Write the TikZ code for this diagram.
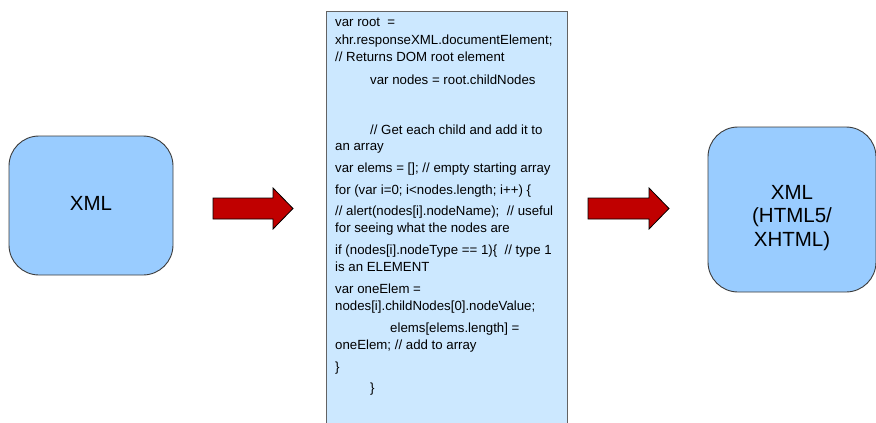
\documentclass[tikz,border=0pt]{standalone}
\usepackage{fontspec}
\setmainfont{Liberation Sans}
\definecolor{boxblue}{HTML}{99CCFF}
\definecolor{codeblue}{HTML}{CCE8FF}
\definecolor{arrowred}{HTML}{C00000}
\definecolor{edgegray}{HTML}{3C3C3C}
\tikzset{
  roundbox/.style={draw=edgegray, line width=0.9pt, fill=boxblue, rounded corners=30pt, inner sep=0pt},
  boxtext/.style={align=center, font=\fontsize{20.5}{23.5}\selectfont, inner sep=0pt},
  codeline/.style={anchor=base west, inner sep=0pt, font=\fontsize{13.25}{16}\selectfont},
  blockarrow/.style={draw=black, line width=0.8pt, fill=arrowred, line join=miter}
}
\begin{document}
\begin{tikzpicture}[x=1pt,y=-1pt]
\useasboundingbox (0,0) rectangle (876,423);
\clip (0,0) rectangle (876,423);
% left box
\node[roundbox, minimum width=164pt, minimum height=139pt] (xml) at (91,205.5) {};
\node[boxtext] (xmltext) at (91,203) {XML};
% right box
\node[roundbox, minimum width=168pt, minimum height=165pt] (html) at (792,209.5) {};
\node[boxtext] (htmltext) at (792,218) {XML\\(HTML5/\\XHTML)};
% middle code box
\node[draw=edgegray!80, line width=0.9pt, fill=codeblue, minimum width=241pt, minimum height=430pt, anchor=north west, inner sep=0pt] (code) at (325.5,11) {};
% arrows
\draw[blockarrow] (213,198) -- (273,198) -- (273,188) -- (293,208.5) -- (273,229) -- (273,219) -- (213,219) -- cycle;
\draw[blockarrow] (588,198) -- (649,198) -- (649,188) -- (669,208.5) -- (649,229) -- (649,219) -- (588,219) -- cycle;
% code lines
\node[codeline] (l1) at (335,26) {var root\ \ =};
\node[codeline] (l2) at (335,45) {xhr.responseXML.documentElement;};
\node[codeline] (l3) at (335,61.5) {// Returns DOM root element};
\node[codeline] (l4) at (370,84) {var nodes = root.childNodes};
\node[codeline] (l5) at (370,134) {// Get each child and add it to};
\node[codeline] (l6) at (335,150.5) {an array};
\node[codeline] (l7) at (335,172.5) {var elems = []; // empty starting array};
\node[codeline] (l8) at (335,194) {for (var i=0; i<nodes.length; i++) \{};
\node[codeline] (l9) at (335,215.5) {// alert(nodes[i].nodeName);\ \ // useful};
\node[codeline] (l10) at (335,232) {for seeing what the nodes are};
\node[codeline] (l11) at (335,254.5) {if (nodes[i].nodeType == 1)\{\ \ // type 1};
\node[codeline] (l12) at (335,271) {is an ELEMENT};
\node[codeline] (l13) at (335,293.5) {var oneElem =};
\node[codeline] (l14) at (335,310) {nodes[i].childNodes[0].nodeValue;};
\node[codeline] (l15) at (390,332.5) {elems[elems.length] =};
\node[codeline] (l16) at (335,349) {oneElem; // add to array};
\node[codeline] (l17) at (335,371) {\}};
\node[codeline] (l18) at (370,392.5) {\}};
\end{tikzpicture}
\end{document}
